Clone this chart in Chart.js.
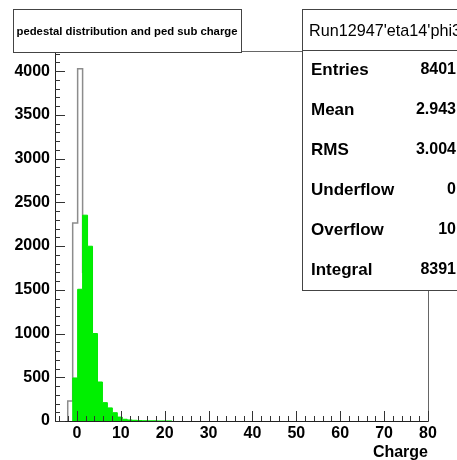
<!DOCTYPE html>
<html>
<head>
    <title>pedestal distribution and ped sub charge</title>
    <script src="https://cdn.jsdelivr.net/npm/chart.js"></script>
    <style>
        body { margin: 0; background: #fff; }
        #wrap { width: 457px; height: 460px; position: relative; }
    </style>
</head>
<body>
<div id="wrap"><canvas id="histo" width="457" height="460"></canvas></div>
<script>
// histogram binning (charge units)
const binLow = -2.1;
const binWidth = 1.13;

// pedestal distribution (gray outline), bins starting at binLow
const pedCounts = [229, 2265, 4027, 1700, 120, 40, 15, 5];
// pedestal subtracted charge (green), bins starting at binLow + binWidth
const chargeCounts = [492, 1506, 2353, 1998, 1000, 446, 210, 150, 95, 45, 20, 12, 8, 5, 3, 2, 2, 1, 1, 1];

const xTickLabels = [0, 10, 20, 30, 40, 50, 60, 70, 80];
const yTickLabels = [0, 500, 1000, 1500, 2000, 2500, 3000, 3500, 4000];

const titleText = 'pedestal distribution and ped sub charge';
const statsHeader = "Run12947'eta14'phi3";
const statsNames = ['Entries', 'Mean', 'RMS', 'Underflow', 'Overflow', 'Integral'];
const statsValues = ['8401', '2.943', '3.004', '0', '10', '8391'];

// turn bin contents into step points
function stepPoints(counts, firstEdge) {
    const pts = [{ x: firstEdge, y: 0 }];
    counts.forEach((c, i) => pts.push({ x: firstEdge + i * binWidth, y: c }));
    pts.push({ x: firstEdge + counts.length * binWidth, y: 0 });
    return pts;
}

const FONT = "'Liberation Sans', Arial, Helvetica, sans-serif";

const rootDecor = {
    id: 'rootDecor',
    afterDatasetsDraw(chart) {
        const ctx = chart.ctx;
        const xs = chart.scales.x, ys = chart.scales.y;
        const a = chart.chartArea;
        ctx.save();
        // frame
        ctx.strokeStyle = '#666';
        ctx.lineWidth = 1;
        ctx.strokeRect(a.left + 0.5, a.top + 0.5, a.right - a.left, a.bottom - a.top);
        ctx.strokeStyle = '#222';
        ctx.beginPath();
        ctx.moveTo(a.left + 0.5, a.top);
        ctx.lineTo(a.left + 0.5, a.bottom + 0.5);
        ctx.lineTo(a.right, a.bottom + 0.5);
        ctx.stroke();
        // x ticks, pointing inward
        ctx.strokeStyle = '#333';
        ctx.beginPath();
        for (let v = -4; v <= 80; v += 2) {
            const px = Math.round(xs.getPixelForValue(v)) + 0.5;
            const len = (v % 10 === 0) ? 10 : 5;
            ctx.moveTo(px, a.bottom);
            ctx.lineTo(px, a.bottom - len);
        }
        // y ticks
        for (let v = 0; v <= ys.max; v += 100) {
            const py = Math.round(ys.getPixelForValue(v)) + 0.5;
            const len = (v % 500 === 0) ? 10 : 5;
            ctx.moveTo(a.left, py);
            ctx.lineTo(a.left + len, py);
        }
        ctx.stroke();

        // title box
        ctx.fillStyle = '#fff';
        ctx.strokeStyle = '#444';
        ctx.fillRect(13, 9, 228, 43);
        ctx.strokeRect(13.5, 9.5, 228, 43);
        ctx.fillStyle = '#000';
        ctx.font = 'bold 11.3px ' + FONT;
        ctx.textAlign = 'center';
        ctx.textBaseline = 'middle';
        ctx.fillText(titleText, 127, 32);

        // stats box
        ctx.fillStyle = '#fff';
        ctx.fillRect(302, 9, 170, 281);
        ctx.strokeRect(302.5, 9.5, 170, 281);
        ctx.beginPath();
        ctx.moveTo(302, 50.5);
        ctx.lineTo(457, 50.5);
        ctx.stroke();
        ctx.fillStyle = '#000';
        ctx.font = '16.2px ' + FONT;
        ctx.textAlign = 'left';
        ctx.fillText(statsHeader, 309, 32);
        statsNames.forEach((n, i) => {
            const y = 70 + i * 40;
            ctx.font = 'bold 17px ' + FONT;
            ctx.textAlign = 'left';
            ctx.fillText(n, 311, y);
            ctx.font = 'bold 16px ' + FONT;
            ctx.textAlign = 'right';
            ctx.fillText(statsValues[i], 456, y);
        });
        ctx.restore();
    }
};

new Chart(document.getElementById('histo'), {
    type: 'line',
    data: {
        datasets: [
            {
                label: 'ped sub charge',
                data: stepPoints(chargeCounts, binLow + binWidth),
                stepped: 'before',
                borderColor: '#00e800',
                backgroundColor: '#00f000',
                borderWidth: 1,
                fill: 'origin',
                pointRadius: 0
            },
            {
                label: 'pedestal',
                data: stepPoints(pedCounts, binLow),
                stepped: 'before',
                borderColor: '#8c8c8c',
                borderWidth: 1.5,
                fill: false,
                pointRadius: 0
            }
        ]
    },
    options: {
        responsive: false,
        animation: false,
        layout: { padding: { top: 51, right: 29, left: 0, bottom: 0 } },
        plugins: { legend: { display: false }, tooltip: { enabled: false } },
        scales: {
            x: {
                type: 'linear',
                min: -5,
                max: 80,
                grid: { display: false, drawTicks: false },
                border: { display: false },
                afterBuildTicks: s => { s.ticks = xTickLabels.map(v => ({ value: v })); },
                afterFit: s => { s.height = 39; },
                ticks: { color: '#000', font: { family: FONT, size: 16, weight: 'bold' }, padding: 3, maxRotation: 0, callback: v => String(v) },
                title: { display: true, text: 'Charge', align: 'end', color: '#000', font: { family: FONT, size: 16, weight: 'bold' }, padding: { top: 0, bottom: -2 } }
            },
            y: {
                min: 0,
                max: 4230,
                grid: { display: false, drawTicks: false },
                border: { display: false },
                afterBuildTicks: s => { s.ticks = yTickLabels.map(v => ({ value: v })); },
                afterFit: s => { s.width = 55; },
                ticks: { color: '#000', font: { family: FONT, size: 16, weight: 'bold' }, padding: 5, callback: v => String(v) }
            }
        }
    },
    plugins: [rootDecor]
});
</script>
</body>
</html>
